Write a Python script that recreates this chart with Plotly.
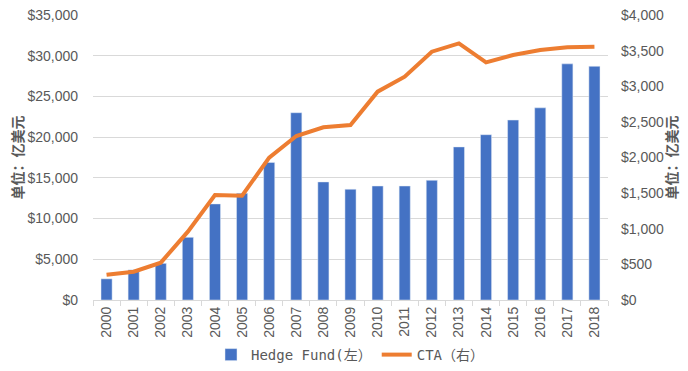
import plotly.graph_objects as go

years = [str(y) for y in range(2000, 2019)]
hedge_fund = [2600, 3700, 4500, 7700, 11800, 13100, 16900, 23000, 14500, 13600,
              14000, 14000, 14700, 18800, 20300, 22100, 23600, 29000, 28700]
cta = [355, 397, 524, 959, 1474, 1464, 1998, 2302, 2424, 2456,
       2924, 3134, 3485, 3602, 3336, 3439, 3509, 3546, 3556]

hf_name = "Hedge Fund(左）"
cta_name = "CTA（右）"
y_title = "单位：亿美元"

tick_font = dict(family="Liberation Sans, Arial", size=14, color="#595959")
title_font = dict(family="Noto Sans CJK SC", size=14, color="#595959", weight="bold")

fig = go.Figure()
fig.add_trace(go.Bar(x=years, y=hedge_fund, name=hf_name, marker_color="#4472C4",
                     yaxis="y"))
fig.add_trace(go.Scatter(x=years, y=cta, name=cta_name, mode="lines",
                         line=dict(color="#ED7D31", width=4), yaxis="y2"))

# page body has an 8px margin, so the figure is 16px smaller than the window
fig.update_layout(
    width=672, height=355,
    margin=dict(l=85, r=72, t=7, b=63),
    paper_bgcolor="white", plot_bgcolor="white",
    bargap=0.59,
    showlegend=True,
    legend=dict(orientation="h", x=0.5, xanchor="center", xref="paper",
                yref="container", y=0.0225, yanchor="middle",
                bgcolor="rgba(0,0,0,0)",
                font=dict(family="DejaVu Sans Mono, Noto Sans CJK SC", size=14, color="#595959"),
                tracegroupgap=0),
    xaxis=dict(type="category", tickangle=-90, tickfont=tick_font, automargin=False,
               showline=True, linecolor="#D9D9D9", linewidth=1,
               ticks="outside", tickson="boundaries", ticklen=5, tickcolor="#D9D9D9",
               showgrid=False),
    yaxis=dict(range=[0, 35000], dtick=5000, tickprefix="$", tickformat=",.0f",
               tickfont=tick_font, showgrid=True, gridcolor="#D9D9D9", gridwidth=1,
               automargin=False, ticklabelstandoff=14, ticklabeloverflow="allow",
               zeroline=False),
    yaxis2=dict(range=[0, 4000], dtick=500, tickprefix="$", tickformat=",.0f",
                tickfont=tick_font, overlaying="y", side="right", showgrid=False,
                automargin=False, ticklabelstandoff=12, ticklabeloverflow="allow",
                zeroline=False),
    annotations=[
        dict(text=y_title, textangle=-90, font=title_font, showarrow=False,
             xref="paper", yref="paper", x=-0.1476, y=0.5,
             xanchor="center", yanchor="middle", borderpad=0),
        dict(text=y_title, textangle=-90, font=title_font, showarrow=False,
             xref="paper", yref="paper", x=1.1223, y=0.5,
             xanchor="center", yanchor="middle", borderpad=0),
    ],
)

fig.write_html("out.html")
